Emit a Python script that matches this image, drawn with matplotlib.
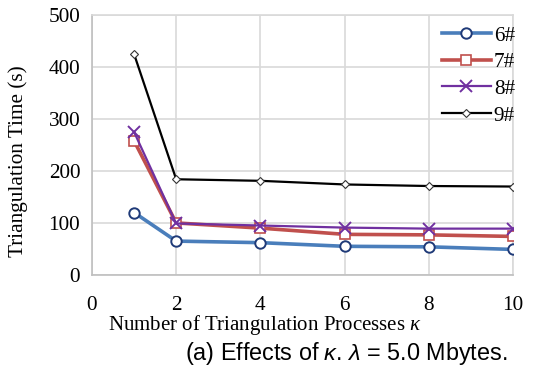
import matplotlib
matplotlib.use("Agg")
import matplotlib.pyplot as plt

# data
kappa = [1, 2, 4, 6, 8, 10]
t6 = [120, 65, 62, 55, 54, 49]
t7 = [258, 100, 90, 78, 77, 74]
t8 = [275, 99, 95, 91, 89, 89]
t9 = [425, 184, 181, 174, 171, 170]
xticks = [0, 2, 4, 6, 8, 10]
yticks = [0, 100, 200, 300, 400, 500]

serif = ["Liberation Serif", "DejaVu Serif"]
sans = ["Liberation Sans", "DejaVu Sans"]

plt.rcParams["mathtext.fontset"] = "custom"
plt.rcParams["mathtext.rm"] = "Liberation Sans"
plt.rcParams["mathtext.it"] = "Liberation Sans:italic"
# used only for the serif italic kappa in the x label
plt.rcParams["mathtext.bf"] = "Liberation Serif:italic"

fig = plt.figure(figsize=(5.54, 3.67), dpi=100)
ax = fig.add_axes([0.166, 0.251, 0.76, 0.708])

ax.plot(kappa, t6, color="#4a7ebb", lw=2.6, marker="o", ms=7.5,
        mfc="white", mec="#1f3a78", mew=1.4, label="6#", zorder=4)
ax.plot(kappa, t7, color="#c0504d", lw=2.6, marker="s", ms=7.5,
        mfc="white", mec="#c0504d", mew=1.2, label="7#", zorder=3)
ax.plot(kappa, t8, color="#7030a0", lw=1.6, marker="x", ms=8,
        mec="#7030a0", mew=1.4, label="8#", zorder=5)
ax.plot(kappa, t9, color="black", lw=1.6, marker="D", ms=4.5,
        mfc="white", mec="#333333", mew=0.8, label="9#", zorder=6)

ax.set_xlim(0, 10)
ax.set_ylim(0, 500)
ax.set_xticks(xticks)
ax.set_yticks(yticks)
ax.grid(True, color="#d9d9d9", lw=1.2)
ax.set_axisbelow(True)
for s in ax.spines.values():
    s.set_color("#d9d9d9")
    s.set_linewidth(1.2)
ax.spines["left"].set_color("#bfbfbf")
ax.spines["bottom"].set_color("#bfbfbf")
ax.tick_params(length=0, labelsize=15.3)
ax.tick_params(axis="x", pad=15)
ax.tick_params(axis="y", pad=8.5)
for lab in ax.get_xticklabels() + ax.get_yticklabels():
    lab.set_family(serif)

ax.set_ylabel("Triangulation Time (s)", family=serif, fontsize=15.3)
ax.yaxis.set_label_coords(-0.152, 0.437)
ax.set_xlabel("Number of Triangulation Processes $\\mathbf{\\kappa}$", family=serif,
              fontsize=15)
ax.xaxis.set_label_coords(0.41, -0.148)

leg = ax.legend(loc="upper right", frameon=False, prop={"family": serif, "size": 15.3},
                handlelength=2.3, handletextpad=0.15, labelspacing=0.32,
                borderaxespad=0.1, bbox_to_anchor=(1.03, 1.0))

fig.text(0.625, 0.038, "(a) Effects of $\\kappa$. $\\lambda$ = 5.0 Mbytes.",
         ha="center", va="center", fontsize=16.8, family=sans)

fig.savefig("out.png", dpi=100)
